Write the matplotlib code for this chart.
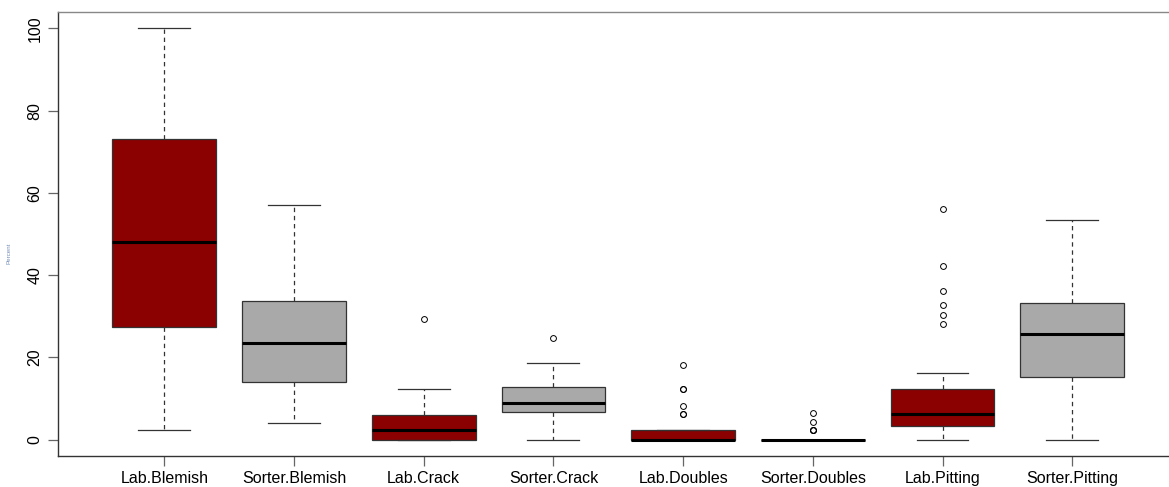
import matplotlib
matplotlib.use("Agg")
import matplotlib.pyplot as plt

plt.rcParams['font.family'] = ['Liberation Sans', 'DejaVu Sans']

categories = ["Lab.Blemish", "Sorter.Blemish", "Lab.Crack", "Sorter.Crack",
              "Lab.Doubles", "Sorter.Doubles", "Lab.Pitting", "Sorter.Pitting"]
q1_vals = [27.3, 14.1, 0.0, 6.6, 0.0, 0.0, 3.2, 15.2]
med_vals = [48.1, 23.6, 2.2, 8.8, 0.0, 0.0, 6.1, 25.7]
q3_vals = [73.0, 33.7, 6.0, 12.9, 2.2, 0.0, 12.2, 33.3]
whislo_vals = [2.2, 4.1, 0.0, 0.0, 0.0, 0.0, 0.0, 0.0]
whishi_vals = [100.0, 57.0, 12.2, 18.5, 2.2, 0.0, 16.1, 53.4]
flier_vals = [
    [],
    [],
    [29.2],
    [24.7],
    [18.2, 12.3, 12.3, 8.1, 6.1, 6.1],
    [6.4, 4.3, 2.3, 2.3, 2.3],
    [56.1, 42.3, 36.2, 32.8, 30.2, 28.2],
    [],
]
fill_colors = ["#8B0000", "#A9A9A9"] * 4
yticks = [0, 20, 40, 60, 80, 100]

stats = []
for i, c in enumerate(categories):
    stats.append(dict(label=c, q1=q1_vals[i], med=med_vals[i], q3=q3_vals[i],
                      whislo=whislo_vals[i], whishi=whishi_vals[i],
                      fliers=flier_vals[i]))

fig = plt.figure(figsize=(11.69, 4.87), dpi=100)
ax = fig.add_axes([0.0496, 0.0637, 0.9586, 0.9117])

edge = "#333333"
bp = ax.bxp(stats, positions=range(1, 9), widths=0.8, patch_artist=True,
            capwidths=0.4,
            boxprops=dict(edgecolor=edge, linewidth=0.9),
            medianprops=dict(color="black", linewidth=2.2, solid_capstyle="butt"),
            whiskerprops=dict(color=edge, linewidth=0.9, linestyle=(0, (3.5, 3))),
            capprops=dict(color=edge, linewidth=0.9),
            flierprops=dict(marker="o", markersize=4.2, markerfacecolor="none",
                            markeredgecolor="black", markeredgewidth=0.7,
                            linestyle="none"))
for patch, col in zip(bp["boxes"], fill_colors):
    patch.set_facecolor(col)

ax.set_xlim(0.18, 8.82)
ax.set_ylim(-4, 104)
ax.set_yticks(yticks)
ax.set_yticklabels([str(v) for v in yticks], rotation=90, va="center", fontsize=11.5)
ax.set_xticks(range(1, 9))
ax.set_xticklabels(categories, fontsize=11.5)
ax.tick_params(axis="both", direction="out", length=7, width=0.9, color="#666666",
               labelcolor="black")
ax.tick_params(axis="y", pad=4)
ax.tick_params(axis="x", pad=3.5)
for s in ["left", "bottom"]:
    ax.spines[s].set_color("#333333")
    ax.spines[s].set_linewidth(1.0)
for s in ["top", "right"]:
    ax.spines[s].set_color("#888888")
    ax.spines[s].set_linewidth(1.0)

fig.text(0.008, 0.48, "Percent", rotation=90, fontsize=4.5, color="#3a5f9a",
         alpha=0.7, ha="center", va="center")

fig.savefig("out.png", dpi=100)
